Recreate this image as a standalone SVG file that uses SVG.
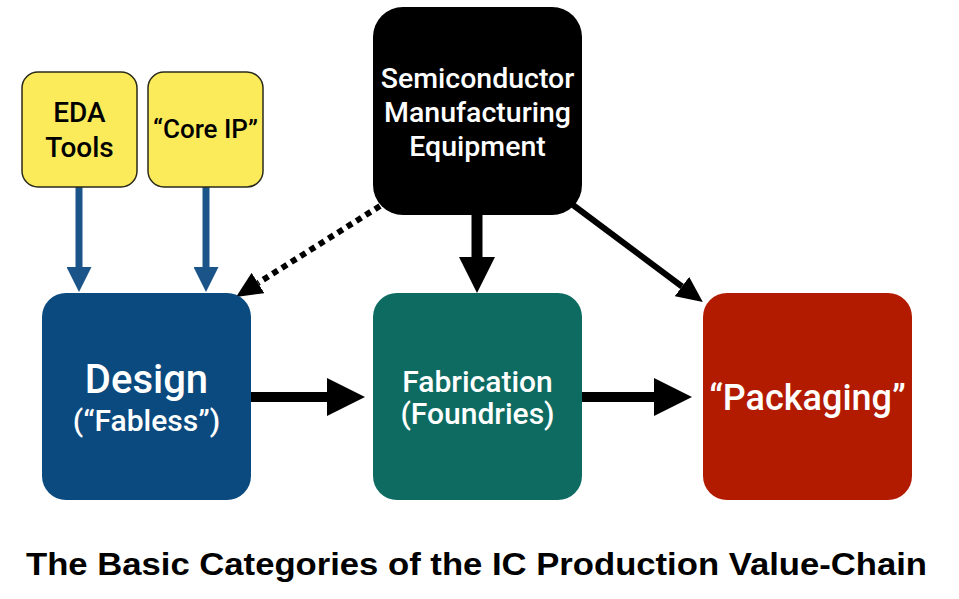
<svg xmlns="http://www.w3.org/2000/svg" width="959" height="599" viewBox="0 0 959 599">
<defs>
<style>
.lbl{font-family:Roboto,"Liberation Sans",Arial,sans-serif;font-weight:500;text-anchor:middle}
.ttl{font-family:"Liberation Sans",Arial,Helvetica,sans-serif;font-weight:bold;text-anchor:middle}
.w{fill:#ffffff}
.k{fill:#000000}
.yel{fill:#FBEB5B;stroke:#2a2a1a;stroke-width:1.5}
.cn{fill:none;stroke:#000}
</style>
<marker id="hBlue" markerUnits="userSpaceOnUse" markerWidth="25" markerHeight="25" refX="0" refY="12.5" orient="auto"><path d="M0,0 L25,12.5 L0,25 Z" fill="#1B5488"/></marker>
<marker id="hBig" markerUnits="userSpaceOnUse" markerWidth="38" markerHeight="38" refX="0" refY="19" orient="auto"><path d="M0,0 L38,19 L0,38 Z" fill="#000"/></marker>
<marker id="hMid" markerUnits="userSpaceOnUse" markerWidth="36" markerHeight="36" refX="0" refY="18" orient="auto"><path d="M0,0 L36,18 L0,36 Z" fill="#000"/></marker>
<marker id="hSmall" markerUnits="userSpaceOnUse" markerWidth="26" markerHeight="24" refX="0" refY="12" orient="auto"><path d="M0,0 L26,12 L0,24 Z" fill="#000"/></marker>
</defs>
<rect width="959" height="599" fill="#ffffff"/>

<g id="connectors">
<line x1="79" y1="187" x2="79" y2="267" stroke="#1B5488" stroke-width="7" marker-end="url(#hBlue)"/>
<line x1="206" y1="187" x2="206" y2="267" stroke="#1B5488" stroke-width="7" marker-end="url(#hBlue)"/>
<line class="cn" x1="380" y1="206" x2="258" y2="283" stroke-width="6" stroke-dasharray="6 5" marker-end="url(#hSmall)"/>
<line class="cn" x1="477" y1="214" x2="477" y2="257" stroke-width="11" marker-end="url(#hMid)"/>
<line class="cn" x1="573" y1="205" x2="682" y2="286.5" stroke-width="6" marker-end="url(#hSmall)"/>
<line class="cn" x1="250" y1="397" x2="327" y2="397" stroke-width="10" marker-end="url(#hBig)"/>
<line class="cn" x1="581" y1="397" x2="654" y2="397" stroke-width="10" marker-end="url(#hBig)"/>
</g>

<g id="eda">
<rect class="yel" x="22" y="72" width="115" height="115" rx="16"/>
<text class="lbl k" x="79.5" y="122" font-size="28">EDA</text>
<text class="lbl k" x="79.5" y="157" font-size="28">Tools</text>
</g>

<g id="coreip">
<rect class="yel" x="148" y="72" width="115" height="115" rx="16"/>
<text class="lbl k" x="205.5" y="138" font-size="26">“Core IP”</text>
</g>

<g id="sme">
<rect x="373" y="7" width="209" height="208" rx="30" fill="#000"/>
<text class="lbl w" x="477.5" y="88" font-size="28.5">Semiconductor</text>
<text class="lbl w" x="477.5" y="122" font-size="28.5">Manufacturing</text>
<text class="lbl w" x="477.5" y="156" font-size="28.5">Equipment</text>
</g>

<g id="design">
<rect x="42" y="293" width="209" height="207" rx="24" fill="#0B4A7E"/>
<text class="lbl w" x="146.5" y="393" font-size="40">Design</text>
<text class="lbl w" x="146.5" y="431" font-size="30">(“Fabless”)</text>
</g>

<g id="fabrication">
<rect x="373" y="293" width="209" height="207" rx="24" fill="#0E6B62"/>
<text class="lbl w" x="477.5" y="392" font-size="30">Fabrication</text>
<text class="lbl w" x="477.5" y="424" font-size="30">(Foundries)</text>
</g>

<g id="packaging">
<rect x="703" y="293" width="209" height="207" rx="24" fill="#B31B00"/>
<text class="lbl w" x="807.5" y="410" font-size="36">“Packaging”</text>
</g>

<text class="ttl k" x="476.5" y="575" font-size="32" textLength="901" lengthAdjust="spacingAndGlyphs">The Basic Categories of the IC Production Value-Chain</text>
</svg>
